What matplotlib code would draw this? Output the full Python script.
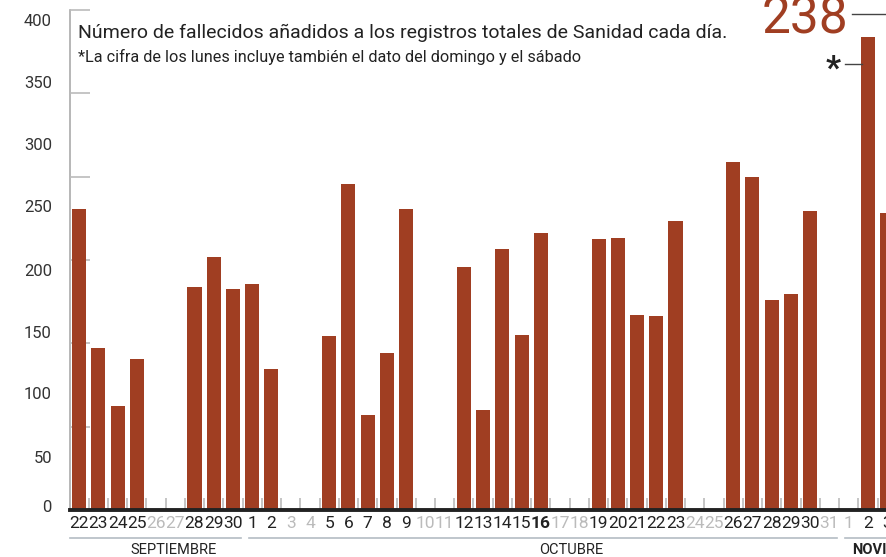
import numpy as np
import matplotlib.pyplot as plt
import matplotlib.transforms as mtransforms

plt.rcParams['font.family'] = ['Roboto', 'DejaVu Sans']

# days from 22 sept to 3 nov
days = [22, 23, 24, 25, 26, 27, 28, 29, 30,
        1, 2, 3, 4, 5, 6, 7, 8, 9, 10, 11, 12, 13, 14, 15, 16, 17, 18,
        19, 20, 21, 22, 23, 24, 25, 26, 27, 28, 29, 30, 31,
        1, 2, 3]
# deaths added each day (None = weekend, no data)
deaths = [242, 130, 84, 121, None, None, 179, 203, 178,
          182, 113, None, None, 140, 262, 76, 126, 242, None, None,
          195, 80, 210, 141, 223, None, None,
          218, 219, 157, 156, 232, None, None,
          280, 268, 169, 174, 240, None,
          None, 380, 239]
ylabels = ['0', '50', '100', '150', '200', '250', '300', '350', '400']
ylabel_pos = [3, 43, 94, 143, 193, 244, 294, 344, 394]
ymarks = [67, 134, 201, 268, 335, 402]
months = ['SEPTIEMBRE', 'OCTUBRE', 'NOVIEMBRE']
month_x = [4.9, 25.6, 40.2]
month_lines = [(-0.47, 8.42), (8.84, 39.4), (39.8, 43)]

bar_color = '#a03e22'
W, H = 886, 557
fig = plt.figure(figsize=(W / 100, H / 100), dpi=100)
ax = fig.add_axes([70 / W, 47 / H, 816 / W, 510 / H])

x = np.arange(len(days))
vals = np.array([np.nan if v is None else v for v in deaths], dtype=float)
ax.bar(x, np.nan_to_num(vals), width=0.73, color=bar_color, zorder=3)

ax.set_xlim(-0.47, 41.94)
ax.set_ylim(0, 410)
for s in ax.spines.values():
    s.set_visible(False)
ax.set_xticks([])
ax.set_yticks(ylabel_pos, ylabels)
ax.tick_params(axis='y', length=0, pad=13, labelsize=12, labelcolor='#333')

# axis line and grey marks
ax.plot([0, 0], [0, 402], transform=ax.get_yaxis_transform(),
        color='#aaaaaa', lw=1.2, clip_on=False)
ax.hlines(ymarks, 0, 20 / 816, transform=ax.get_yaxis_transform(),
          color='#bbbbbb', lw=1.2)
ax.vlines(np.arange(len(days)) - 0.5, 0, 10, color='#bbbbbb', lw=1.2, zorder=1)
ax.axhline(0, color='#222222', lw=2.8, clip_on=False, zorder=4)

# day labels (grey where there is no data)
tr = mtransforms.blended_transform_factory(ax.transData, fig.transFigure)
for i, d in enumerate(days):
    col = '#bbbbbb' if deaths[i] is None else '#222222'
    fw = 'bold' if d == 16 else 'normal'
    ax.text(i, 1 - 524 / H, str(d), transform=tr, ha='center', va='center',
            fontsize=12.5, color=col, fontweight=fw, clip_on=False)

# months
for m, mx, (a, b) in zip(months, month_x, month_lines):
    ax.plot([a, b], [1 - 538 / H] * 2, transform=tr, color='#b4bcc4',
            lw=1.2, clip_on=False)
    if m == 'NOVIEMBRE':
        ax.text(mx, 1 - 550 / H, m, transform=tr, ha='left', va='center',
                fontsize=10.5, fontweight='bold', color='#222', clip_on=False)
    else:
        ax.text(mx, 1 - 550 / H, m, transform=tr, ha='center', va='center',
                fontsize=10.5, color='#222', clip_on=False)

# titles
fig.text(78 / W, 1 - 33 / H,
         'Número de fallecidos añadidos a los registros totales de Sanidad cada día.',
         fontsize=14, color='#222', va='center')
fig.text(78 / W, 1 - 57 / H,
         '*La cifra de los lunes incluye también el dato del domingo y el sábado',
         fontsize=11.7, color='#222', va='center')

# annotations
fig.text(848 / W, 1 - 33 / H, '238', fontsize=37, color=bar_color,
         ha='right', va='baseline')
fig.add_artist(plt.Line2D([852 / W, 1], [1 - 14 / H] * 2, color='#444', lw=1))
fig.text(833 / W, 1 - 70 / H, '*', fontsize=24, fontweight='bold',
         color='#222', ha='center', va='center')
fig.add_artist(plt.Line2D([845 / W, 862 / W], [1 - 64 / H] * 2, color='#444', lw=1))

fig.savefig('out.png', dpi=100)
